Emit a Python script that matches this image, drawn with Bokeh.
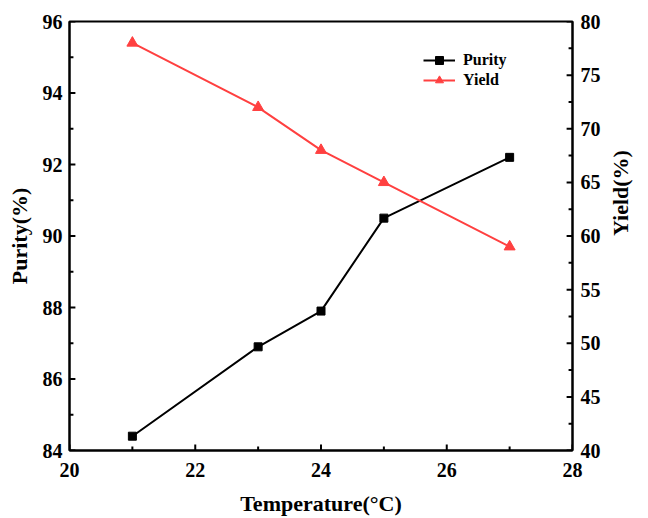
import math
from bokeh.plotting import figure
from bokeh.models import (LinearAxis, Range1d, FixedTicker, Legend, LegendItem)
from bokeh.embed import file_html
from bokeh.resources import INLINE

# Temperature sweep and measured results
temperature = [21, 23, 24, 25, 27]
purity = [84.4, 86.9, 87.9, 90.5, 92.2]
yield_pct = [78, 72, 68, 65, 59]

# Tick positions
x_major = [20, 22, 24, 26, 28]
x_minor = [21, 23, 25, 27]
purity_major = [84, 86, 88, 90, 92, 94, 96]
purity_minor = [85, 87, 89, 91, 93, 95]
yield_major = [40, 45, 50, 55, 60, 65, 70, 75, 80]
yield_minor = [42.5, 47.5, 52.5, 57.5, 62.5, 67.5, 72.5, 77.5]

FONT = "Liberation Serif"
RED = "#FF4040"

X0, X1 = 20, 28
P0, P1 = 84, 96
Y0, Y1 = 40, 80
FRAME_W, FRAME_H = 512, 430

p = figure(width=648, height=518, output_backend="svg", toolbar_location=None,
           x_range=Range1d(X0, X1), y_range=Range1d(P0, P1),
           min_border_left=69, min_border_right=56,
           min_border_top=21, min_border_bottom=67)
p.extra_y_ranges = {"yield": Range1d(Y0, Y1)}
p.grid.visible = False
p.outline_line_color = "black"
p.outline_line_width = 2
p.background_fill_color = "white"
p.border_fill_color = "white"


def style_axis(ax, major):
    ax.ticker = FixedTicker(ticks=major)
    ax.axis_line_color = "black"
    ax.axis_line_width = 2
    ax.major_tick_in = 0
    ax.major_tick_out = 0
    ax.minor_tick_in = 0
    ax.minor_tick_out = 0
    ax.major_label_text_font = FONT
    ax.major_label_text_font_style = "bold"
    ax.major_label_text_font_size = "20px"
    ax.major_label_text_color = "black"
    ax.axis_label_text_font = FONT
    ax.axis_label_text_font_style = "bold"
    ax.axis_label_text_font_size = "22px"
    ax.axis_label_text_color = "black"


style_axis(p.xaxis[0], x_major)
p.xaxis[0].axis_label = "Temperature(°C)"
p.xaxis[0].major_label_standoff = 12
p.xaxis[0].axis_label_standoff = 11

style_axis(p.yaxis[0], purity_major)
p.yaxis[0].axis_label = "Purity(%)"
p.yaxis[0].major_label_standoff = 7
p.yaxis[0].axis_label_standoff = 8

# right axis title reads bottom to top
right = LinearAxis(y_range_name="yield", axis_label="Yield(%)")
style_axis(right, yield_major)
right.major_label_standoff = 8
right.axis_label_standoff = 17
right.axis_label_orientation = math.pi / 2
p.add_layout(right, "right")

# inward tick marks, lengths given in pixels and converted to data units
dx = (X1 - X0) / FRAME_W
dp = (P1 - P0) / FRAME_H
for ticks, length in ((x_major, 6), (x_minor, 4)):
    p.segment(x0=ticks, y0=[P0] * len(ticks), x1=ticks, y1=[P0 + length * dp] * len(ticks),
              line_color="black", line_width=2)
for ticks, length in ((purity_major, 6), (purity_minor, 4)):
    p.segment(x0=[X0] * len(ticks), y0=ticks, x1=[X0 + length * dx] * len(ticks), y1=ticks,
              line_color="black", line_width=2)
for ticks, length in ((yield_major, 6), (yield_minor, 4)):
    p.segment(x0=[X1] * len(ticks), y0=ticks, x1=[X1 - length * dx] * len(ticks), y1=ticks,
              line_color="black", line_width=2, y_range_name="yield")

r1 = p.line(temperature, purity, line_color="black", line_width=2)
s1 = p.scatter(temperature, purity, marker="square", size=8, color="black")
r2 = p.line(temperature, yield_pct, line_color=RED, line_width=2, y_range_name="yield")
s2 = p.scatter(temperature, yield_pct, marker="triangle", size=11, color=RED,
               y_range_name="yield")

legend = Legend(items=[LegendItem(label="Purity", renderers=[r1, s1]),
                       LegendItem(label="Yield", renderers=[r2, s2])],
                location=(354, 360), padding=0, margin=0, spacing=0,
                glyph_width=32, glyph_height=20, label_height=20,
                label_standoff=8,
                label_text_font=FONT, label_text_font_style="bold",
                label_text_font_size="16px", label_text_color="black",
                border_line_color=None, background_fill_alpha=0)
p.add_layout(legend, "center")

open("out.html", "w").write(file_html(p, INLINE))
